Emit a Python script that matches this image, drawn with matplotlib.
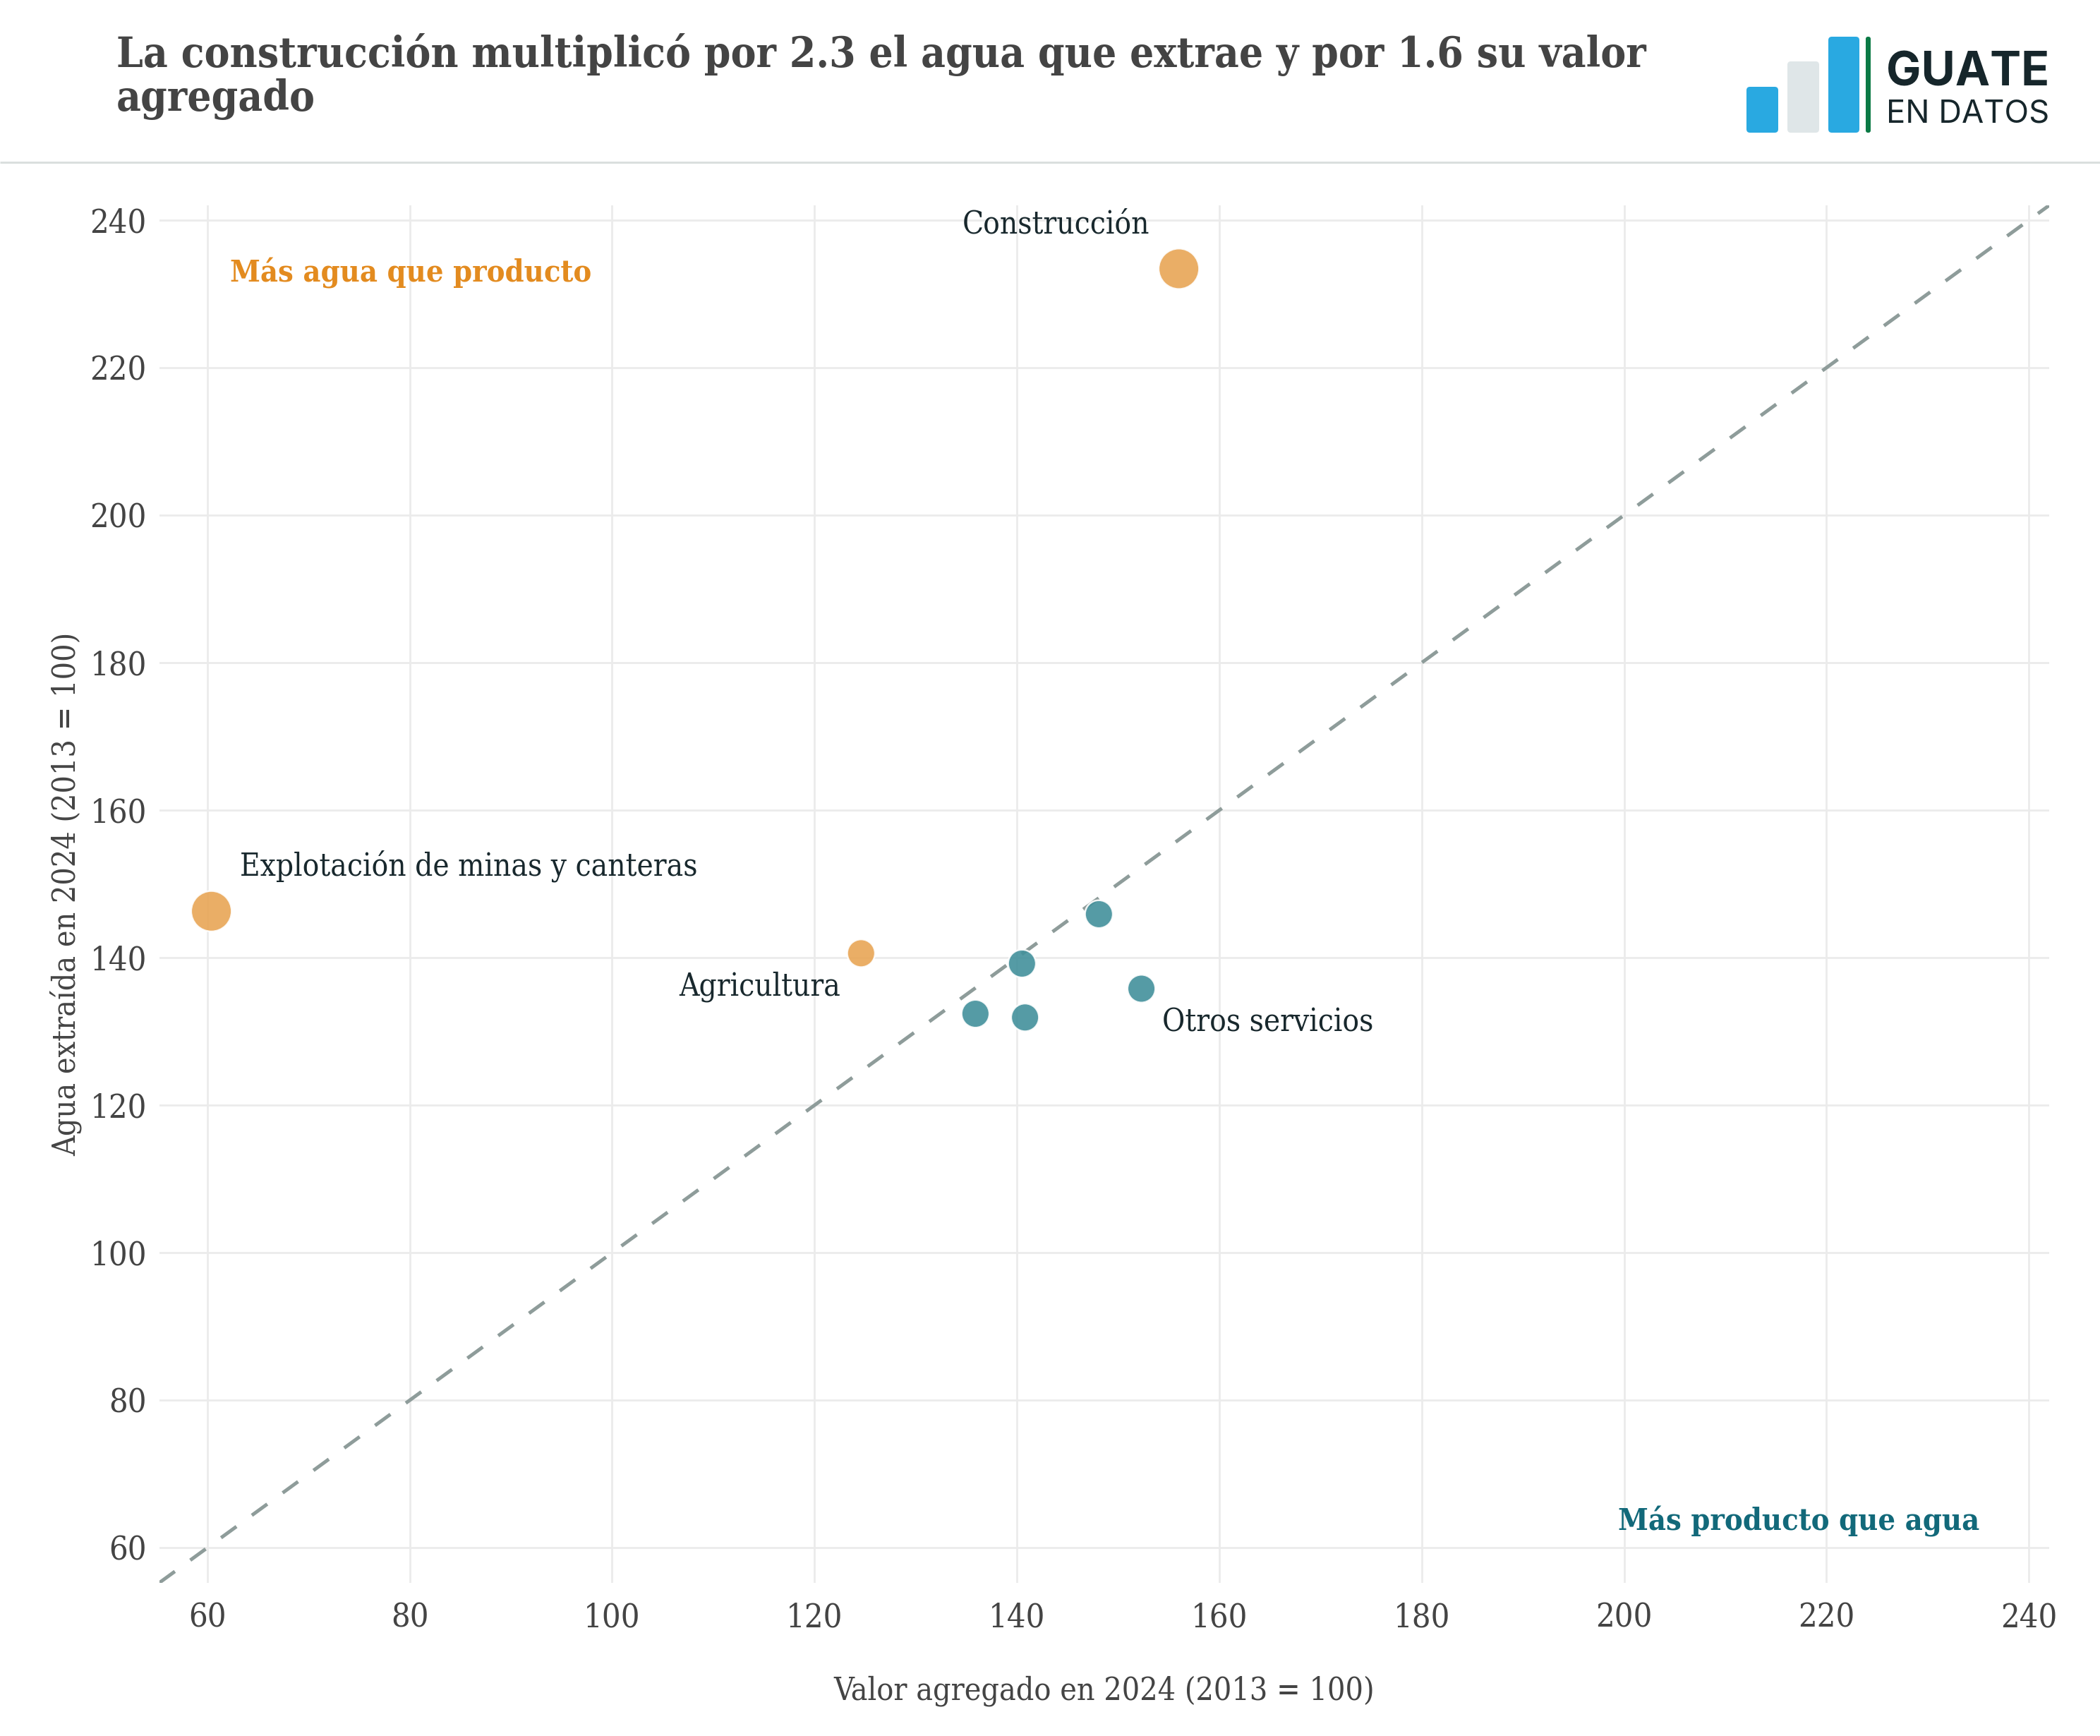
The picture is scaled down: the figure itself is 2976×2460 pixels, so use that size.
import os
import matplotlib
matplotlib.use("Agg")
import matplotlib.pyplot as plt
from matplotlib import font_manager as fm
from matplotlib.font_manager import FontProperties
from matplotlib.patches import FancyBboxPatch

# ---------------- data ----------------
sectores = ["Construcción", "Explotación de minas y canteras", "Agricultura",
            "", "", "Otros servicios", "", ""]
valor_agregado = [156.0, 60.4, 124.6, 148.1, 140.5, 152.3, 135.9, 140.8]
agua_extraida = [233.4, 146.3, 140.6, 145.9, 139.2, 135.8, 132.4, 131.9]
destacado = [True, True, False, False, False, False, False, False]
ticks = [60, 80, 100, 120, 140, 160, 180, 200, 220, 240]

titulo_l1 = "La construcción multiplicó por 2.3 el agua que extrae y por 1.6 su valor"
titulo_l2 = "agregado"
eje_x = "Valor agregado en 2024 (2013 = 100)"
eje_y = "Agua extraída en 2024 (2013 = 100)"
nota_arriba = "Más agua que producto"
nota_abajo = "Más producto que agua"

# label offsets in pixels (dx, dy_baseline, ha)
label_offsets = {
    "Construcción": (-41.5, 50, "right"),
    "Explotación de minas y canteras": (40.7, 51, "left"),
    "Agricultura": (-29.5, -59.5, "right"),
    "Otros servicios": (29.7, -61, "left"),
}

# ---------------- figure ----------------
W, H, DPI = 2976, 2460, 200
fig = plt.figure(figsize=(W / DPI, H / DPI), dpi=DPI)
fig.patch.set_facecolor("white")
renderer = fig.canvas.get_renderer()

files = {os.path.basename(f.fname): f.fname for f in fm.fontManager.ttflist}


def font_path(cands, family, weight):
    for c in cands:
        if c in files:
            return files[c]
    return fm.findfont(FontProperties(family=family, weight=weight))


SERIF_R = font_path(["DejaVuSerifCondensed.ttf"], "DejaVu Serif", "normal")
SERIF_B = font_path(["DejaVuSerifCondensed-Bold.ttf"], "DejaVu Serif", "bold")

SANS_B = None
SANS_R = None
for f in fm.fontManager.ttflist:
    if f.name == "Inter" and "[" not in os.path.basename(f.fname):
        if f.weight in (700, "bold") and f.style == "normal" and SANS_B is None:
            SANS_B = f.fname
        if f.weight in (400, "normal", "regular") and f.style == "normal" and SANS_R is None:
            SANS_R = f.fname
if SANS_B is None:
    SANS_B = fm.findfont(FontProperties(family="Lato", weight="bold"))
if SANS_R is None:
    SANS_R = fm.findfont(FontProperties(family="Lato", weight="normal"))


def fp(path, size):
    return FontProperties(fname=path, size=size)


def fit(s, path, target_w, target_cap, cap_ratio=0.729):
    w, _, _ = renderer.get_text_width_height_descent(s, fp(path, 20), ismath=False)
    size_w = 20 * target_w / w
    size_h = target_cap / cap_ratio * 72 / DPI
    return min(size_w, size_h * 1.05)


sz_title = fit(titulo_l1, SERIF_B, 2165, 45)
sz_lab = fit("Explotación de minas y canteras", SERIF_R, 647, 31)
sz_note = fit(nota_arriba, SERIF_B, 512, 34)
sz_tick = fit("200", SERIF_R, 80, 33)
sz_axis = fit(eje_x, SERIF_R, 766, 33)
sz_guate = fit("GUATE", SANS_B, 231, 54, 0.727)
sz_datos = fit("EN DATOS", SANS_R, 231, 36, 0.727)

ORANGE = "#E8A555"
TEAL = "#42909B"
TXT = "#444444"
LAB = "#18282D"

# ---------------- main axes ----------------
ax = fig.add_axes([226 / W, 1 - 2243 / H, (2904 - 226) / W, (2243 - 291) / H])
ax.set_xlim(55.27, 242.0)
ax.set_ylim(55.24, 242.0)
ax.set_xticks(ticks)
ax.set_yticks(ticks)
ax.set_xticklabels([str(t) for t in ticks])
ax.set_yticklabels([str(t) for t in ticks])
ax.grid(True, color="#EBEBEB", linewidth=1.0)
ax.set_axisbelow(True)
for s in ax.spines.values():
    s.set_visible(False)
ax.tick_params(axis="x", length=0, pad=9.7, labelcolor=TXT)
ax.tick_params(axis="y", length=0, pad=6.5, labelcolor=TXT)
for lbl in ax.get_xticklabels() + ax.get_yticklabels():
    lbl.set_fontproperties(fp(SERIF_R, sz_tick))

# identity line
ax.axline((100, 100), slope=1, color="#8E9C9A", linewidth=1.8,
          linestyle=(0, (5.4, 5.4)), dash_capstyle="butt", zorder=2)

colors = [ORANGE if y > x else TEAL for x, y in zip(valor_agregado, agua_extraida)]
sizes = [428 if d else 202 for d in destacado]
ax.scatter(valor_agregado, agua_extraida, s=sizes, c=colors, alpha=0.9,
           edgecolors="white", linewidths=0.9, zorder=3)

for name, x, y in zip(sectores, valor_agregado, agua_extraida):
    if not name:
        continue
    dx, dy, ha = label_offsets[name]
    ax.annotate(name, (x, y), xytext=(dx * 72 / DPI, dy * 72 / DPI),
                textcoords="offset points", ha=ha, va="baseline",
                fontproperties=fp(SERIF_R, sz_lab), color=LAB, zorder=4)

ax.text(62.21, 231.58, nota_arriba, ha="left", va="baseline",
        fontproperties=fp(SERIF_B, sz_note), color="#E38B1F", zorder=4)
ax.text(235.12, 62.39, nota_abajo, ha="right", va="baseline",
        fontproperties=fp(SERIF_B, sz_note), color="#12697A", zorder=4)

ax.set_xlabel(eje_x, fontproperties=fp(SERIF_R, sz_axis), color=TXT)
ax.xaxis.set_label_coords(0.5, -(2409 - 2243) / (2243 - 291))
ax.xaxis.label.set_va("baseline")
ax.set_ylabel(eje_y, fontproperties=fp(SERIF_R, sz_axis), color=TXT)
ax.yaxis.label.set_rotation_mode("anchor")
ax.yaxis.label.set_ha("center")
ax.yaxis.label.set_va("baseline")
ax.yaxis.set_label_coords(-(226 - 107) / (2904 - 226), 0.5)

# ---------------- header overlay ----------------
oax = fig.add_axes([0, 0, 1, 1])
oax.set_xlim(0, W)
oax.set_ylim(H, 0)
oax.axis("off")

oax.text(165, 95, titulo_l1, ha="left", va="baseline",
         fontproperties=fp(SERIF_B, sz_title), color=TXT)
oax.text(165, 157, titulo_l2, ha="left", va="baseline",
         fontproperties=fp(SERIF_B, sz_title), color=TXT)

oax.plot([0, W], [229.5, 229.5], color="#DADFDE", linewidth=3 * 72 / DPI,
         solid_capstyle="butt")

# logo
for (x0, y0, x1, y1, col, r) in [
    (2475, 123, 2520, 188, "#29A9E1", 5),
    (2533, 87, 2578, 188, "#DFE6E8", 5),
    (2591, 52, 2635, 188, "#29A9E1", 5),
    (2644, 52, 2651, 188, "#0B7A45", 3),
]:
    oax.add_patch(FancyBboxPatch((x0, y0), x1 - x0, y1 - y0,
                                 boxstyle=f"round,pad=0,rounding_size={r}",
                                 facecolor=col, edgecolor="none"))
oax.text(2673, 121, "GUATE", ha="left", va="baseline",
         fontproperties=fp(SANS_B, sz_guate), color="#16262B")
oax.text(2673, 173, "EN DATOS", ha="left", va="baseline",
         fontproperties=fp(SANS_R, sz_datos), color="#16262B")

fig.savefig("out.png", dpi=DPI, facecolor="white")
